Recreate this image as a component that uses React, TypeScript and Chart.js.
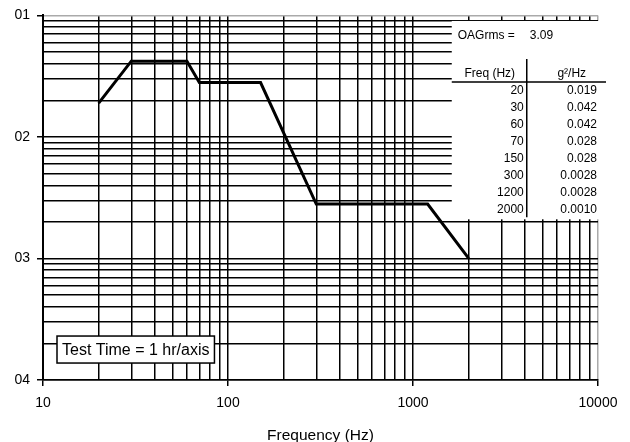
import React, { useEffect, useRef } from "react";
import { Chart, registerables } from "chart.js";

Chart.register(...registerables);

// ---- data ----
const freqs = [20, 30, 60, 70, 150, 300, 1200, 2000];
const psd = [0.019, 0.042, 0.042, 0.028, 0.028, 0.0028, 0.0028, 0.001];
const freqLabels = ["20", "30", "60", "70", "150", "300", "1200", "2000"];
const psdLabels = ["0.019", "0.042", "0.042", "0.028", "0.028", "0.0028", "0.0028", "0.0010"];
const xMajorTicks = [10, 100, 1000, 10000];
const xTickLabels = ["10", "100", "1000", "10000"];
const yMajorTicks = [0.1, 0.01, 0.001, 0.0001];
const yTickLabels = ["01", "02", "03", "04"];
const oagLabel = "OAGrms =";
const oagValue = "3.09";
const testTimeLabel = "Test Time = 1 hr/axis";
const xTitle = "Frequency (Hz)";
const tableHeaders = ["Freq (Hz)", "g\u00b2/Hz"];

const FONT = "'Liberation Sans', Arial, sans-serif";

function logTicks(min: number, max: number) {
  const out: { value: number; major: boolean }[] = [];
  const e0 = Math.floor(Math.log10(min) + 1e-9);
  const e1 = Math.ceil(Math.log10(max) - 1e-9);
  for (let e = e0; e <= e1; e++) {
    for (let d = 1; d <= 9; d++) {
      const v = Number((d * Math.pow(10, e)).toPrecision(8));
      if (v < min * 0.9999 || v > max * 1.0001) continue;
      out.push({ value: v, major: d === 1 });
    }
  }
  return out;
}

function majorLabel(v: number, majors: number[], labels: string[]) {
  for (let i = 0; i < majors.length; i++) {
    if (Math.abs(Math.log10(v) - Math.log10(majors[i])) < 1e-6) return labels[i];
  }
  return "";
}

const tablePlugin = {
  id: "tablePanel",
  afterDraw(chart: any) {
    const ctx = chart.ctx as CanvasRenderingContext2D;
    const xs = chart.scales.x;
    const ys = chart.scales.y;
    const ca = chart.chartArea;
    const left = xs.getPixelForValue(1620);
    const right = ca.right + 4;
    const top = ys.getPixelForValue(0.09);
    const bottom = ys.getPixelForValue(0.0021);
    ctx.save();
    ctx.fillStyle = "#fff";
    ctx.fillRect(left, top, right - left, bottom - top);

    ctx.fillStyle = "#000";
    ctx.textBaseline = "middle";
    ctx.font = `12px ${FONT}`;
    ctx.textAlign = "left";
    ctx.fillText(oagLabel, left + 6, top + 15);
    ctx.fillText(oagValue, left + 78, top + 15);

    // headers
    ctx.textAlign = "center";
    ctx.fillText(tableHeaders[0], left + 38, top + 53);
    ctx.fillText(tableHeaders[1], left + 120, top + 53);

    // separators
    ctx.strokeStyle = "#000";
    ctx.lineWidth = 1.5;
    ctx.beginPath();
    ctx.moveTo(left, top + 61);
    ctx.lineTo(right + 4, top + 61);
    ctx.moveTo(left + 75, top + 38);
    ctx.lineTo(left + 75, bottom - 2);
    ctx.stroke();

    for (let i = 0; i < freqLabels.length; i++) {
      const y = top + 70 + i * 17;
      ctx.textAlign = "right";
      ctx.fillText(freqLabels[i], left + 72, y);
      ctx.fillText(psdLabels[i], right - 5, y);
    }

    // test time box
    const bx = ca.left + 14;
    const by = ys.getPixelForValue(0.00023);
    ctx.font = `16px ${FONT}`;
    const tw = ctx.measureText(testTimeLabel).width;
    const bw = tw + 10;
    const bh = 27;
    ctx.fillStyle = "#fff";
    ctx.fillRect(bx, by, bw, bh);
    ctx.strokeStyle = "#000";
    ctx.lineWidth = 1.5;
    ctx.strokeRect(bx, by, bw, bh);
    ctx.fillStyle = "#000";
    ctx.textAlign = "left";
    ctx.fillText(testTimeLabel, bx + 5, by + bh / 2 + 1);
    ctx.restore();
  },
};

export default function App() {
  const ref = useRef<HTMLCanvasElement | null>(null);

  useEffect(() => {
    document.body.style.margin = "0";
    const canvas = ref.current!;
    const chart = new Chart(canvas, {
      type: "line",
      data: {
        datasets: [
          {
            data: freqs.map((f, i) => ({ x: f, y: psd[i] })),
            borderColor: "#000",
            borderWidth: 3,
            pointRadius: 0,
            fill: false,
            tension: 0,
          },
        ],
      },
      options: {
        animation: false,
        responsive: false,
        devicePixelRatio: 1,
        layout: { padding: { top: 15, right: 32, left: 0, bottom: 0 } },
        plugins: {
          legend: { display: false },
          tooltip: { enabled: false },
        },
        scales: {
          x: {
            type: "logarithmic",
            min: 10,
            max: 10000,
            afterBuildTicks: (s: any) => {
              s.ticks = logTicks(10, 10000);
            },
            afterFit: (s: any) => {
              s.height = 62;
            },
            border: { display: true, color: "#000", width: 1.5 },
            grid: {
              color: (c: any) =>
                c.tick && Math.abs(c.tick.value - 10000) < 1e-6 ? "#aaa" : "#000",
              lineWidth: 1.5,
              tickLength: 6,
              tickColor: (c: any) => (c.tick && c.tick.major ? "#000" : "rgba(0,0,0,0)"),
            },
            ticks: {
              autoSkip: false,
              maxRotation: 0,
              padding: 9,
              color: "#000",
              font: { family: FONT, size: 14 },
              callback: (v: any) => majorLabel(Number(v), xMajorTicks, xTickLabels),
            },
            title: {
              display: true,
              text: xTitle,
              color: "#000",
              font: { family: FONT, size: 15.5 },
              padding: { top: 0, bottom: -3 },
            },
          },
          y: {
            type: "logarithmic",
            min: 0.0001,
            max: 0.1,
            afterBuildTicks: (s: any) => {
              s.ticks = logTicks(0.0001, 0.1);
            },
            afterFit: (s: any) => {
              s.width = 43;
            },
            border: { display: true, color: "#000", width: 2 },
            grid: {
              color: (c: any) =>
                c.tick && Math.abs(Math.log10(c.tick.value) + 1) < 1e-6 ? "#aaa" : "#000",
              lineWidth: 1.5,
              tickLength: 6,
              tickColor: (c: any) => (c.tick && c.tick.major ? "#000" : "rgba(0,0,0,0)"),
            },
            ticks: {
              autoSkip: false,
              padding: 7,
              color: "#000",
              font: { family: FONT, size: 14 },
              callback: (v: any) => majorLabel(Number(v), yMajorTicks, yTickLabels),
            },
          },
        },
      },
      plugins: [tablePlugin],
    });
    return () => chart.destroy();
  }, []);

  return (
    <div style={{ width: 630, height: 442 }}>
      <canvas ref={ref} width={630} height={442} style={{ display: "block" }} />
    </div>
  );
}
